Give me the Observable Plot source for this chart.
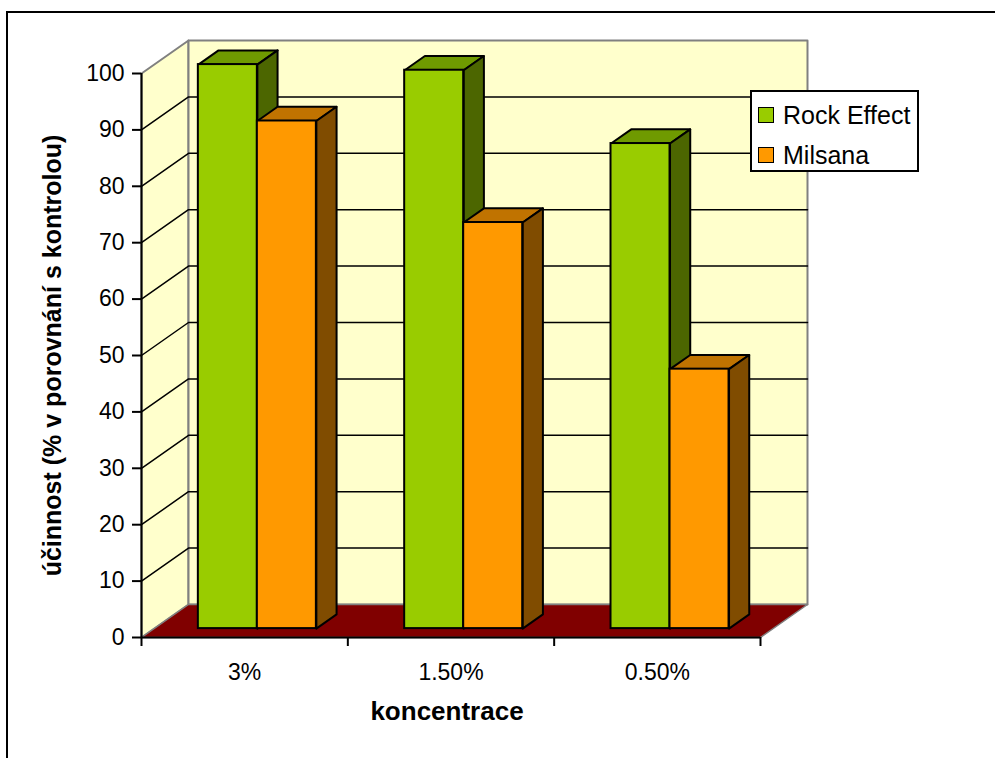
<!DOCTYPE html>
<html><head><meta charset="utf-8">
<script src="https://cdn.jsdelivr.net/npm/d3@7"></script>
<script src="https://cdn.jsdelivr.net/npm/@observablehq/plot@0.6"></script>
<style>
body{margin:0;background:#fff;font-family:Arial,"Liberation Sans",sans-serif;}
#wrap{position:relative;width:995px;height:758px;overflow:hidden;}
#frame{position:absolute;left:6px;top:11px;width:1100px;height:900px;border-left:2px solid #000;border-top:2px solid #000;}
#chart{position:absolute;left:0;top:0;}
#legend{position:absolute;left:750px;top:90px;width:165px;height:78px;border:2px solid #000;background:#fff;}
.item{position:absolute;left:6px;height:24px;display:flex;align-items:center;font-size:25px;color:#000;white-space:nowrap;}
.sw{width:14px;height:14px;border:1.5px solid #000;margin-right:9px;}
</style></head>
<body>
<div id="wrap"><div id="frame"></div><div id="chart"></div><div id="legend"></div></div>
<script>
const categories = ["3%", "1.50%", "0.50%"];
const seriesNames = ["Rock Effect", "Milsana"];
const rockEffect = [100, 99, 86];
const milsana = [90, 72, 46];
const yTicks = [0, 10, 20, 30, 40, 50, 60, 70, 80, 90, 100];
const yTitle = "účinnost (% v porovnání s kontrolou)";
const xTitle = "koncentrace";

const frontColors = ["#99CC00", "#FF9900"];
const topColors = ["#6F9A00", "#C07300"];
const sideColors = ["#4C6600", "#804C00"];

// 3D depth offset in data units
const Dx = 0.2278, Dy = 5.85;
const nCat = categories.length;
const yMax = d3.max(yTicks);
const P = (x, y, d, id) => ({x: x + d * Dx, y: y + d * Dy, id});

const barW = 0.286, f0 = 0.27, bd = 0.43;
const seriesValues = [rockEffect, milsana];

function barParts(values, si) {
  const fronts = [], tops = [], sides = [];
  values.forEach((v, i) => {
    const x0 = i + 0.5 + (si - 1) * barW, x1 = x0 + barW;
    const id = si + "-" + i;
    fronts.push({x1: x0 + f0 * Dx, x2: x1 + f0 * Dx, y1: f0 * Dy, y2: v + f0 * Dy});
    tops.push(P(x0, v, f0, id), P(x1, v, f0, id), P(x1, v, f0 + bd, id), P(x0, v, f0 + bd, id), P(x0, v, f0, id));
    sides.push(P(x1, 0, f0, id), P(x1, v, f0, id), P(x1, v, f0 + bd, id), P(x1, 0, f0 + bd, id), P(x1, 0, f0, id));
  });
  return {fronts, tops, sides};
}

const sideWall = [P(0, 0, 0), P(0, yMax, 0), P(0, yMax, 1), P(0, 0, 1), P(0, 0, 0)];
const backWall = [P(0, 0, 1), P(nCat, 0, 1), P(nCat, yMax, 1), P(0, yMax, 1), P(0, 0, 1)];
const floor = [P(0, 0, 0), P(nCat, 0, 0), P(nCat, 0, 1), P(0, 0, 1), P(0, 0, 0)];
const grid = [];
yTicks.filter(v => v > 0 && v < yMax).forEach(v => {
  grid.push(P(0, v, 0, v), P(0, v, 1, v), P(nCat, v, 1, v));
});

const marks = [
  Plot.line(sideWall, {x: "x", y: "y", fill: "#FFFFCC", stroke: "#808080", strokeWidth: 2}),
  Plot.line(backWall, {x: "x", y: "y", fill: "#FFFFCC", stroke: "#808080", strokeWidth: 2}),
  Plot.line(grid, {x: "x", y: "y", z: "id", stroke: "#000", strokeWidth: 1.5}),
  Plot.line(floor, {x: "x", y: "y", fill: "#800000", stroke: "#808080", strokeWidth: 1.5}),
];
seriesValues.forEach((vals, si) => {
  const parts = barParts(vals, si);
  marks.push(
    Plot.line(parts.tops, {x: "x", y: "y", z: "id", fill: topColors[si], stroke: "#000", strokeWidth: 2}),
    Plot.line(parts.sides, {x: "x", y: "y", z: "id", fill: sideColors[si], stroke: "#000", strokeWidth: 2}),
    Plot.rect(parts.fronts, {x1: "x1", x2: "x2", y1: "y1", y2: "y2", fill: frontColors[si], stroke: "#000", strokeWidth: 2})
  );
});
marks.push(
  Plot.ruleX([0], {y1: 0, y2: yMax, stroke: "#000", strokeWidth: 2}),
  Plot.ruleY([0], {x1: 0, x2: nCat, stroke: "#000", strokeWidth: 2}),
  Plot.axisY(yTicks, {tickSize: 9, tickPadding: 8, fontSize: 23, strokeWidth: 2, label: null}),
  Plot.axisX(d3.range(nCat + 1), {tickSize: 9, tickFormat: () => "", strokeWidth: 2, label: null}),
  Plot.axisX(d3.range(nCat).map(i => i + 0.5), {tickSize: 0, tickPadding: 26, fontSize: 23, tickFormat: d => categories[Math.floor(d)], label: null}),
  Plot.text([xTitle], {x: nCat / 2, y: 0, dx: -4, dy: 74, fontSize: 26, fontWeight: "bold", text: d => d}),
  Plot.text([yTitle], {x: -0.43, y: yMax / 2, rotate: -90, fontSize: 25, fontWeight: "bold", text: d => d})
);

const chart = Plot.plot({
  width: 995, height: 758,
  marginLeft: 141, marginRight: 188, marginTop: 40, marginBottom: 121,
  x: {domain: [0, nCat + Dx], label: null},
  y: {domain: [0, yMax + Dy], label: null},
  style: {fontFamily: "Arial, 'Liberation Sans', sans-serif", background: "transparent", color: "#000"},
  marks
});
document.getElementById("chart").appendChild(chart);

const legend = document.getElementById("legend");
seriesNames.forEach((name, si) => {
  const it = document.createElement("div");
  it.className = "item";
  it.style.top = (11 + si * 40) + "px";
  it.innerHTML = `<span class="sw" style="background:${frontColors[si]}"></span><span>${name}</span>`;
  legend.appendChild(it);
});
</script>
</body></html>
